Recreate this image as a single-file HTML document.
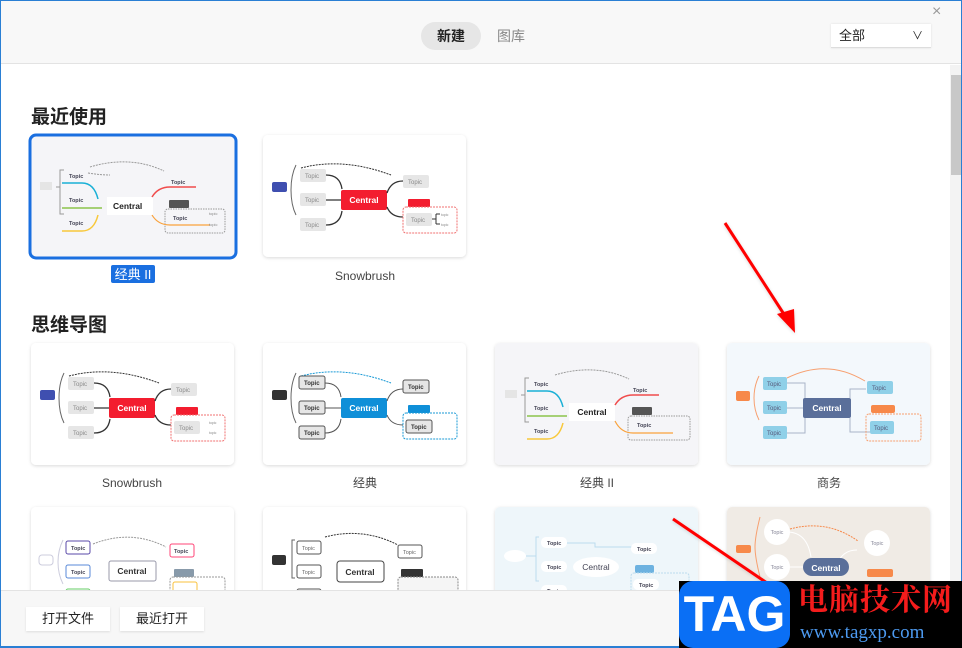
<!DOCTYPE html>
<html><head><meta charset="utf-8"><style>
*{margin:0;padding:0;box-sizing:border-box}
body{width:962px;height:648px;overflow:hidden;background:#fff;font-family:"Liberation Sans","Noto Sans CJK SC",sans-serif;position:relative}
.abs{position:absolute}
</style></head><body>
<div class="abs" style="left:0;top:0;width:962px;height:648px;border:1px solid #2a7fd4;"></div>
<div class="abs" style="left:1px;top:1px;width:960px;height:63px;background:#f8f8f8;border-bottom:1px solid #e3e3e3"></div>
<div class="abs" style="left:421px;top:22px;width:60px;height:28px;border-radius:14px;background:#e6e6e6;font-size:14px;font-weight:bold;color:#222;text-align:center;line-height:28px">新建</div>
<div class="abs" style="left:497px;top:22px;font-size:14px;color:#888;line-height:28px">图库</div>
<div class="abs" style="left:831px;top:24px;width:100px;height:24px;background:#fff;border-bottom:1px solid #ddd;box-shadow:0 0 2px #ddd;font-size:13px;color:#222;line-height:24px;padding-left:8px">全部<span style="position:absolute;right:8px;font-size:11px">&#8744;</span></div>
<div class="abs" style="left:932px;top:3px;font-size:16px;color:#999">×</div>
<div class="abs" style="left:950px;top:65px;width:11px;height:525px;background:#f3f3f3"></div>
<div class="abs" style="left:951px;top:75px;width:10px;height:100px;background:#c8c8c8"></div>
<div class="abs" style="left:31px;top:102px;font-size:19px;font-weight:bold;color:#222">最近使用</div>
<div class="abs" style="left:31px;top:310px;font-size:19px;font-weight:bold;color:#222">思维导图</div>

<svg class="abs" style="left:0;top:0" width="962" height="648" font-family="Liberation Sans,sans-serif">
<defs><filter id="sh" x="-5%" y="-5%" width="110%" height="115%"><feDropShadow dx="0" dy="1" stdDeviation="1.5" flood-color="#000" flood-opacity="0.15"/></filter></defs>

<!-- Card 1: classic II selected -->
<g transform="translate(30,135)">
<rect x="0" y="0" width="206" height="123" rx="6" fill="#f5f5f8" stroke="#1a6fe0" stroke-width="3"/>
<rect x="10" y="47" width="12" height="8" fill="#e5e5e5"/>
<path d="M34 35h-4v44h4M26 52h4" fill="none" stroke="#999"/>
<path d="M58 38 Q70 40 80 40" fill="none" stroke="#999" stroke-dasharray="2 1"/>
<path d="M32 48h20q12 0 16 16" fill="none" stroke="#1ab0d6" stroke-width="1.5"/>
<path d="M32 73h40" fill="none" stroke="#8bc34a" stroke-width="1.5"/>
<path d="M32 96h20q12 0 16 -16" fill="none" stroke="#f8c83a" stroke-width="1.5"/>
<text x="39" y="43" font-size="5.5" font-weight="bold" fill="#445">Topic</text>
<text x="39" y="67" font-size="5.5" font-weight="bold" fill="#445">Topic</text>
<text x="39" y="90" font-size="5.5" font-weight="bold" fill="#445">Topic</text>
<path d="M60 32 Q100 20 134 36" fill="none" stroke="#999" stroke-dasharray="2 1"/>
<rect x="77" y="62" width="46" height="18" fill="#fff"/>
<text x="83" y="74" font-size="8.5" font-weight="bold" fill="#222">Central</text>
<path d="M122 62q6-10 18-10h26" fill="none" stroke="#f04c4c" stroke-width="1.5"/>
<text x="141" y="49" font-size="5.5" font-weight="bold" fill="#445">Topic</text>
<rect x="139" y="65" width="20" height="8" rx="1" fill="#555"/>
<rect x="135" y="74" width="60" height="24" rx="3" fill="none" stroke="#999" stroke-dasharray="1.5 1"/>
<path d="M122 80q6 10 18 10h40" fill="none" stroke="#f9a23c" stroke-width="1.2"/>
<text x="143" y="85" font-size="5.5" font-weight="bold" fill="#445">Topic</text>
<text x="179" y="80" font-size="4" fill="#888">topic</text><text x="179" y="91" font-size="4" fill="#888">topic</text>
</g>
<rect x="111" y="265" width="44" height="18" rx="2" fill="#1a6fe0"/>
<text x="133" y="279" font-size="13" fill="#fff" text-anchor="middle" font-family="Liberation Sans,Noto Sans CJK SC,sans-serif">经典 II</text>

<!-- Snowbrush template function replicated -->
<g transform="translate(263,135)">
<rect width="203" height="122" rx="5" fill="#fff" filter="url(#sh)"/>
<rect x="9" y="47" width="15" height="10" rx="2" fill="#3f4fb0"/>
<path d="M33 30q-5 10-5 25t5 25" fill="none" stroke="#666"/>
<path d="M38 33Q80 22 128 40" fill="none" stroke="#333" stroke-dasharray="2 1"/>
<rect x="37" y="34" width="26" height="13" rx="2" fill="#e6e6e6"/><rect x="37" y="58" width="26" height="13" rx="2" fill="#e6e6e6"/><rect x="37" y="83" width="26" height="13" rx="2" fill="#e6e6e6"/>
<text x="42" y="43" font-size="6" fill="#888">Topic</text><text x="42" y="67" font-size="6" fill="#888">Topic</text><text x="42" y="92" font-size="6" fill="#888">Topic</text>
<path d="M63 40q14 0 16 14M63 65h15M63 90q14 0 16-14" fill="none" stroke="#333" stroke-width="1.3"/>
<rect x="78" y="55" width="46" height="20" rx="2" fill="#f31d2f"/>
<text x="101" y="68" font-size="8.5" font-weight="bold" fill="#fff" text-anchor="middle">Central</text>
<path d="M124 58q4-12 16-12M124 72q4 10 16 10" fill="none" stroke="#333" stroke-width="1.3"/>
<rect x="140" y="40" width="26" height="13" rx="2" fill="#e6e6e6"/><text x="145" y="49" font-size="6" fill="#888">Topic</text>
<rect x="145" y="64" width="22" height="8" rx="1" fill="#f31d2f"/>
<rect x="140" y="72" width="54" height="26" rx="3" fill="none" stroke="#f07070" stroke-dasharray="2 1"/>
<rect x="143" y="78" width="26" height="13" rx="2" fill="#e6e6e6"/><text x="148" y="87" font-size="6" fill="#888">Topic</text>
<path d="M169 84h4m0-5v10m0-10h4m-4 10h4" fill="none" stroke="#333"/>
<text x="178" y="81" font-size="3.5" fill="#888">topic</text><text x="178" y="91" font-size="3.5" fill="#888">topic</text>
</g>
<text x="365" y="280" font-size="12" fill="#444" text-anchor="middle">Snowbrush</text>

<!-- Row 2 -->
<g transform="translate(31,343)">
<rect width="203" height="122" rx="5" fill="#fff" filter="url(#sh)"/>
<rect x="9" y="47" width="15" height="10" rx="2" fill="#3f4fb0"/>
<path d="M33 30q-5 10-5 25t5 25" fill="none" stroke="#666"/>
<path d="M38 33Q80 22 128 40" fill="none" stroke="#333" stroke-dasharray="2 1"/>
<rect x="37" y="34" width="26" height="13" rx="2" fill="#e6e6e6"/><rect x="37" y="58" width="26" height="13" rx="2" fill="#e6e6e6"/><rect x="37" y="83" width="26" height="13" rx="2" fill="#e6e6e6"/>
<text x="42" y="43" font-size="6" fill="#888">Topic</text><text x="42" y="67" font-size="6" fill="#888">Topic</text><text x="42" y="92" font-size="6" fill="#888">Topic</text>
<path d="M63 40q14 0 16 14M63 65h15M63 90q14 0 16-14" fill="none" stroke="#333" stroke-width="1.3"/>
<rect x="78" y="55" width="46" height="20" rx="2" fill="#f31d2f"/>
<text x="101" y="68" font-size="8.5" font-weight="bold" fill="#fff" text-anchor="middle">Central</text>
<path d="M124 58q4-12 16-12M124 72q4 10 16 10" fill="none" stroke="#333" stroke-width="1.3"/>
<rect x="140" y="40" width="26" height="13" rx="2" fill="#e6e6e6"/><text x="145" y="49" font-size="6" fill="#888">Topic</text>
<rect x="145" y="64" width="22" height="8" rx="1" fill="#f31d2f"/>
<rect x="140" y="72" width="54" height="26" rx="3" fill="none" stroke="#f07070" stroke-dasharray="2 1"/>
<rect x="143" y="78" width="26" height="13" rx="2" fill="#e6e6e6"/><text x="148" y="87" font-size="6" fill="#888">Topic</text>
<text x="178" y="81" font-size="3.5" fill="#888">topic</text><text x="178" y="91" font-size="3.5" fill="#888">topic</text>
</g>
<text x="132" y="487" font-size="12" fill="#444" text-anchor="middle">Snowbrush</text>

<g transform="translate(263,343)">
<rect width="203" height="122" rx="5" fill="#fff" filter="url(#sh)"/>
<rect x="9" y="47" width="15" height="10" rx="2" fill="#333"/>
<path d="M33 30q-5 10-5 25t5 25" fill="none" stroke="#666"/>
<path d="M38 33Q80 22 128 40" fill="none" stroke="#1a9ad6" stroke-dasharray="2 1"/>
<rect x="36" y="33" width="26" height="13" rx="2" fill="#e6e6e6" stroke="#555"/><rect x="36" y="58" width="26" height="13" rx="2" fill="#e6e6e6" stroke="#555"/><rect x="36" y="83" width="26" height="13" rx="2" fill="#e6e6e6" stroke="#555"/>
<text x="41" y="42" font-size="6" font-weight="bold" fill="#333">Topic</text><text x="41" y="67" font-size="6" font-weight="bold" fill="#333">Topic</text><text x="41" y="92" font-size="6" font-weight="bold" fill="#333">Topic</text>
<path d="M62 40q14 0 16 14M62 65h16M62 90q14 0 16-14" fill="none" stroke="#555"/>
<rect x="78" y="55" width="46" height="20" rx="2" fill="#0f8fd8"/>
<text x="101" y="68" font-size="8.5" font-weight="bold" fill="#fff" text-anchor="middle">Central</text>
<path d="M124 58q4-12 16-12M124 72q4 10 16 10" fill="none" stroke="#555"/>
<rect x="140" y="37" width="26" height="13" rx="2" fill="#e6e6e6" stroke="#555"/><text x="145" y="46" font-size="6" font-weight="bold" fill="#333">Topic</text>
<rect x="145" y="62" width="22" height="8" rx="1" fill="#0f8fd8"/>
<rect x="140" y="70" width="54" height="26" rx="3" fill="none" stroke="#1a9ad6" stroke-dasharray="2 1"/>
<rect x="143" y="77" width="26" height="13" rx="2" fill="#e6e6e6" stroke="#555"/><text x="148" y="86" font-size="6" font-weight="bold" fill="#333">Topic</text>
</g>
<text x="365" y="487" font-size="12" fill="#444" text-anchor="middle" font-family="Liberation Sans,Noto Sans CJK SC,sans-serif">经典</text>

<g transform="translate(495,343)">
<rect width="203" height="122" rx="5" fill="#f5f5f8" filter="url(#sh)"/>
<rect x="10" y="47" width="12" height="8" fill="#e5e5e5"/>
<path d="M34 35h-4v44h4M26 52h4" fill="none" stroke="#999"/>
<path d="M32 48h20q12 0 16 16" fill="none" stroke="#1ab0d6" stroke-width="1.5"/>
<path d="M32 73h40" fill="none" stroke="#8bc34a" stroke-width="1.5"/>
<path d="M32 96h20q12 0 16 -16" fill="none" stroke="#f8c83a" stroke-width="1.5"/>
<text x="39" y="43" font-size="5.5" font-weight="bold" fill="#445">Topic</text><text x="39" y="67" font-size="5.5" font-weight="bold" fill="#445">Topic</text><text x="39" y="90" font-size="5.5" font-weight="bold" fill="#445">Topic</text>
<path d="M60 32 Q100 20 134 36" fill="none" stroke="#999" stroke-dasharray="2 1"/>
<rect x="74" y="60" width="46" height="18" fill="#fff"/>
<text x="97" y="72" font-size="8.5" font-weight="bold" fill="#222" text-anchor="middle">Central</text>
<path d="M120 62q6-10 18-10h26" fill="none" stroke="#f04c4c" stroke-width="1.5"/>
<text x="138" y="49" font-size="5.5" font-weight="bold" fill="#445">Topic</text>
<rect x="137" y="64" width="20" height="8" rx="1" fill="#555"/>
<rect x="133" y="73" width="62" height="24" rx="3" fill="none" stroke="#999" stroke-dasharray="1.5 1"/>
<path d="M120 78q6 12 18 12h40" fill="none" stroke="#f9a23c" stroke-width="1.2"/>
<text x="142" y="84" font-size="5.5" font-weight="bold" fill="#445">Topic</text>
</g>
<text x="597" y="487" font-size="12" fill="#444" text-anchor="middle" font-family="Liberation Sans,Noto Sans CJK SC,sans-serif">经典 II</text>

<g transform="translate(727,343)">
<rect width="203" height="122" rx="5" fill="#f3f8fc" filter="url(#sh)"/>
<rect x="9" y="48" width="14" height="10" rx="2" fill="#f7894a"/>
<path d="M32 33q-5 10-5 22t5 22" fill="none" stroke="#f7a070"/>
<path d="M60 35Q100 15 138 38" fill="none" stroke="#f7a070"/>
<rect x="36" y="34" width="24" height="13" rx="2" fill="#8fd0e8"/><rect x="36" y="58" width="24" height="13" rx="2" fill="#8fd0e8"/><rect x="36" y="83" width="24" height="13" rx="2" fill="#8fd0e8"/>
<text x="40" y="43" font-size="6" fill="#557">Topic</text><text x="40" y="67" font-size="6" fill="#557">Topic</text><text x="40" y="92" font-size="6" fill="#557">Topic</text>
<path d="M60 40h18v50h-18M60 65h17M123 75v14h26M123 55v-9h16" fill="none" stroke="#a8b4c8"/>
<rect x="76" y="55" width="48" height="20" rx="2" fill="#5a6f9a"/>
<text x="100" y="68" font-size="8.5" font-weight="bold" fill="#fff" text-anchor="middle">Central</text>
<rect x="140" y="38" width="26" height="13" rx="2" fill="#8fd0e8"/><text x="145" y="47" font-size="6" fill="#557">Topic</text>
<rect x="144" y="62" width="24" height="8" rx="2" fill="#f7894a"/>
<rect x="139" y="71" width="55" height="27" rx="3" fill="none" stroke="#f7a070" stroke-dasharray="2 1"/>
<rect x="143" y="78" width="24" height="13" rx="2" fill="#8fd0e8"/><text x="147" y="87" font-size="6" fill="#557">Topic</text>
</g>
<text x="829" y="487" font-size="12" fill="#444" text-anchor="middle" font-family="Liberation Sans,Noto Sans CJK SC,sans-serif">商务</text>

<!-- Row 3 -->
<g transform="translate(31,507)">
<rect width="203" height="122" rx="5" fill="#fff" filter="url(#sh)"/>
<rect x="8" y="48" width="14" height="10" rx="3" fill="#fff" stroke="#ccd"/>
<path d="M32 33q-5 10-5 22t5 22" fill="none" stroke="#ccd"/>
<path d="M62 37Q100 22 135 40" fill="none" stroke="#999" stroke-dasharray="2 1"/>
<rect x="35" y="34" width="24" height="13" rx="2" fill="#fff" stroke="#5a4aa8"/><text x="40" y="43" font-size="5.5" font-weight="bold" fill="#445">Topic</text>
<rect x="35" y="58" width="24" height="13" rx="2" fill="#fff" stroke="#5a8ad8"/><text x="40" y="67" font-size="5.5" font-weight="bold" fill="#445">Topic</text>
<rect x="35" y="82" width="24" height="13" rx="2" fill="#fff" stroke="#6c6"/>
<rect x="78" y="54" width="47" height="20" rx="2" fill="#fff" stroke="#99a"/>
<text x="101" y="67" font-size="8.5" font-weight="bold" fill="#333" text-anchor="middle">Central</text>
<rect x="139" y="37" width="24" height="13" rx="2" fill="#fff" stroke="#f47"/><text x="143" y="46" font-size="5.5" font-weight="bold" fill="#445">Topic</text>
<rect x="143" y="62" width="20" height="8" rx="1" fill="#889aaa"/>
<rect x="139" y="70" width="55" height="28" rx="3" fill="none" stroke="#999" stroke-dasharray="2 1"/>
<rect x="142" y="75" width="24" height="13" rx="2" fill="#fff" stroke="#f9c23c"/>
</g>
<g transform="translate(263,507)">
<rect width="203" height="122" rx="5" fill="#fff" filter="url(#sh)"/>
<rect x="9" y="48" width="14" height="10" rx="2" fill="#333"/>
<path d="M32 33h-3v38h3" fill="none" stroke="#666"/>
<path d="M62 30Q100 20 135 38" fill="none" stroke="#333" stroke-dasharray="2 1"/>
<rect x="34" y="34" width="24" height="13" rx="2" fill="#fff" stroke="#555"/><text x="39" y="43" font-size="5.5" fill="#666">Topic</text>
<rect x="34" y="58" width="24" height="13" rx="2" fill="#fff" stroke="#555"/><text x="39" y="67" font-size="5.5" fill="#666">Topic</text>
<rect x="34" y="82" width="24" height="13" rx="2" fill="#fff" stroke="#555"/>
<rect x="74" y="54" width="47" height="21" rx="3" fill="#fff" stroke="#444"/>
<text x="97" y="68" font-size="8.5" font-weight="bold" fill="#333" text-anchor="middle">Central</text>
<rect x="135" y="38" width="24" height="13" rx="2" fill="#fff" stroke="#555"/><text x="140" y="47" font-size="5.5" fill="#666">Topic</text>
<rect x="138" y="62" width="22" height="8" rx="1" fill="#333"/>
<rect x="135" y="70" width="60" height="28" rx="3" fill="#f5f5f5" stroke="#888" stroke-dasharray="2 1"/>
</g>
<g transform="translate(495,507)">
<rect width="203" height="122" rx="5" fill="#eef6fa" filter="url(#sh)"/>
<ellipse cx="20" cy="49" rx="11" ry="6" fill="#fff"/>
<path d="M44 30h-3v44h3M31 49h10M70 36h30v4h40" fill="none" stroke="#bcdcee"/>
<rect x="46" y="30" width="26" height="11" rx="5" fill="#fff"/><text x="52" y="38" font-size="5.5" font-weight="bold" fill="#445">Topic</text>
<rect x="46" y="54" width="26" height="11" rx="5" fill="#fff"/><text x="52" y="62" font-size="5.5" font-weight="bold" fill="#445">Topic</text>
<rect x="46" y="78" width="26" height="11" rx="5" fill="#fff"/><text x="52" y="86" font-size="5.5" font-weight="bold" fill="#445">Topic</text>
<ellipse cx="101" cy="60" rx="23" ry="10" fill="#fff"/>
<text x="101" y="63" font-size="8.5" fill="#445" text-anchor="middle">Central</text>
<rect x="136" y="36" width="26" height="11" rx="5" fill="#fff"/><text x="142" y="44" font-size="5.5" font-weight="bold" fill="#445">Topic</text>
<rect x="140" y="58" width="19" height="8" rx="2" fill="#6db2e0"/>
<rect x="136" y="66" width="58" height="28" rx="3" fill="none" stroke="#bcdcee" stroke-dasharray="2 1"/>
<rect x="138" y="72" width="26" height="11" rx="5" fill="#fff"/><text x="144" y="80" font-size="5.5" font-weight="bold" fill="#445">Topic</text>
</g>
<g transform="translate(727,507)">
<rect width="203" height="122" rx="5" fill="#f0ebe5" filter="url(#sh)"/>
<rect x="9" y="38" width="15" height="8" rx="2" fill="#f7894a"/>
<path d="M33 10q-5 20-5 30t5 30" fill="none" stroke="#f7a070"/>
<path d="M63 22Q100 12 131 34" fill="none" stroke="#f7894a" stroke-dasharray="2 1"/>
<path d="M60 25q20 0 24 25M60 60h20M130 43q-15 0 -20 15" fill="none" stroke="#fff"/>
<circle cx="50" cy="25" r="13" fill="#fff"/><text x="50" y="27" font-size="5.5" fill="#889" text-anchor="middle">Topic</text>
<circle cx="50" cy="60" r="13" fill="#fff"/><text x="50" y="62" font-size="5.5" fill="#889" text-anchor="middle">Topic</text>
<rect x="76" y="51" width="46" height="18" rx="9" fill="#5a6f9a"/>
<text x="99" y="64" font-size="8.5" font-weight="bold" fill="#fff" text-anchor="middle">Central</text>
<circle cx="150" cy="36" r="13" fill="#fff"/><text x="150" y="38" font-size="5.5" fill="#889" text-anchor="middle">Topic</text>
<rect x="140" y="62" width="26" height="8" rx="2" fill="#f7894a"/>
</g>

<!-- red arrows -->
<g filter="url(#sh)">
<line x1="725" y1="223" x2="789" y2="322" stroke="#f00" stroke-width="3"/>
<polygon points="795,333 777,314 794,309" fill="#f00"/>
<line x1="673" y1="519" x2="770" y2="585" stroke="#f00" stroke-width="3"/>
</g>
</svg>

<div class="abs" style="left:1px;top:590px;width:960px;height:56px;background:#f7f7f7;border-top:1px solid #e3e3e3"></div>
<div class="abs" style="left:26px;top:607px;width:84px;height:24px;background:#fff;box-shadow:0 1px 2px #ddd;font-size:13px;color:#222;text-align:center;line-height:24px">打开文件</div>
<div class="abs" style="left:120px;top:607px;width:84px;height:24px;background:#fff;box-shadow:0 1px 2px #ddd;font-size:13px;color:#222;text-align:center;line-height:24px">最近打开</div>
<div class="abs" style="left:0;top:646px;width:962px;height:2px;background:#2a7fd4"></div>

<div class="abs" style="left:679px;top:581px;width:283px;height:67px;background:#000"></div>
<div class="abs" style="left:679px;top:581px;width:111px;height:67px;background:#0a6ff5;border-radius:14px;color:#fff;font-size:50px;font-weight:bold;line-height:67px;text-align:center;font-family:'Liberation Sans',sans-serif">TAG</div>
<div class="abs" style="left:798px;top:583px;font-size:30px;font-weight:bold;color:#f41c1c;letter-spacing:1px;line-height:36px;font-family:'Liberation Serif','Noto Serif CJK SC',serif">电脑技术网</div>
<div class="abs" style="left:800px;top:622px;font-size:19px;color:#4d9af0;font-family:'Liberation Serif',serif">www.tagxp.com</div>
</body></html>
